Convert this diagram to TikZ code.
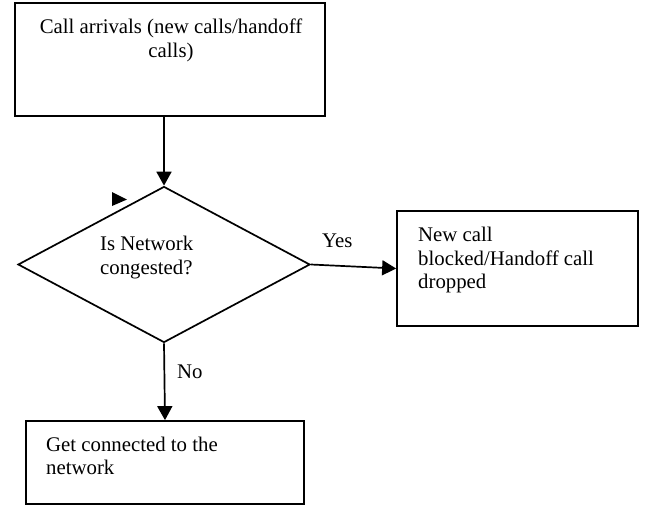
\documentclass[tikz,border=0pt]{standalone}
\usepackage{fontspec}
\setmainfont{Liberation Serif}
\usetikzlibrary{shapes.geometric,arrows.meta}
\begin{document}
\begin{tikzpicture}[x=1pt,y=-1pt,
  box/.style={draw,line width=1.7pt,inner sep=0pt},
  txt/.style={inner sep=0pt,font=\fontsize{20.8}{23.5}\selectfont},
  arr/.style={line width=1.7pt,-{Triangle[length=14pt,width=15pt]}}]
\useasboundingbox (0,0) rectangle (648,506);
% boxes
\node[box,minimum width=310pt,minimum height=113pt] (top) at (170,59.5) {};
\node[box,diamond,minimum width=292pt,minimum height=156pt] (dia) at (164,264.5) {};
\node[box,minimum width=241pt,minimum height=115pt] (right) at (517.5,268.5) {};
\node[box,minimum width=278pt,minimum height=83pt] (bot) at (165,462.5) {};
% texts
\node[txt,align=center,anchor=north] (toptxt) at (171,18.7) {Call arrivals (new calls/handoff\\calls)};
\node[txt,align=left,anchor=north west] (diatxt) at (100,236) {Is Network\\congested?};
\node[txt,align=left,anchor=north west] (righttxt) at (418,227) {New call\\blocked/Handoff call\\dropped};
\node[txt,align=left,anchor=north west] (bottxt) at (46,436.5) {Get connected to the\\network};
\node[txt,anchor=base west] (yes) at (322,247) {Yes};
\node[txt,anchor=base west] (no) at (177,378) {No};
% connectors
\draw[arr] (top.south -| dia.north) -- (dia.north);
\draw[arr] (dia.east) -- (right.west);
\draw[arr] (dia.south) -- (bot.north);
% stray arrowhead
\fill (112,192) -- (112,206) -- (127,199.5) -- cycle;
\end{tikzpicture}
\end{document}
